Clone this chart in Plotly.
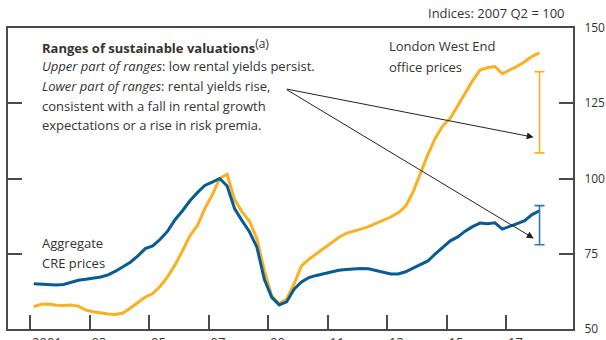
import plotly.graph_objects as go

# Quarterly observations, 2001 Q1 to 2018 Q1 (indices: 2007 Q2 = 100)
years = [y for y in range(2001, 2019) for _ in range(4)][:69]
quarters = ([1, 2, 3, 4] * 18)[:69]

aggregate_cre = [
    65.0, 64.8, 64.6, 64.6, 64.8, 65.6, 66.2, 66.5,
    66.8, 67.3, 68.0, 69.2, 70.7, 72.2, 74.3, 76.7,
    77.6, 79.8, 82.5, 86.3, 89.3, 92.6, 95.3, 97.7,
    98.8, 100.0, 97.5, 90.0, 86.0, 82.3, 77.2, 66.5,
    60.5, 58.0, 59.0, 63.2, 65.6, 67.1, 67.8, 68.4,
    69.0, 69.5, 69.8, 70.0, 70.1, 70.0, 69.5, 68.8,
    68.3, 68.3, 69.0, 70.2, 71.3, 72.6, 75.0, 77.3,
    79.3, 80.6, 82.5, 84.0, 85.2, 85.0, 85.3, 83.2,
    84.0, 85.0, 86.0, 88.0, 89.3,
]

london_west_end = [
    57.4, 58.2, 58.3, 57.9, 57.8, 58.0, 57.6, 56.3,
    55.7, 55.3, 55.0, 54.8, 55.3, 57.0, 58.7, 60.6,
    61.8, 64.2, 67.4, 71.3, 76.0, 81.0, 84.3, 90.0,
    94.5, 100.0, 101.4, 93.0, 89.0, 85.8, 80.0, 69.5,
    61.0, 58.4, 60.0, 65.0, 71.0, 73.2, 75.0, 76.8,
    78.6, 80.4, 81.8, 82.4, 83.2, 84.0, 85.0, 86.2,
    87.2, 88.6, 90.8, 95.5, 102.0, 108.0, 113.5, 117.5,
    120.0, 124.0, 128.3, 132.5, 136.0, 136.8, 137.2, 134.8,
    136.0, 137.3, 138.8, 140.6, 141.7,
]

# Ranges of sustainable valuations (low, high)
cre_range = [78.0, 91.0]
west_end_range = [108.5, 135.5]

tick_years = [2001, 2003, 2005, 2007, 2009, 2011, 2013, 2015, 2017]
tick_labels = ["2001", "03", "05", "07", "09", "11", "13", "15", "17"]
y_ticks = [50, 75, 100, 125, 150]

ORANGE = "#FBB021"
BLUE = "#075C96"
BLUE_RANGE = "#2B78B0"
TEXT = "#333333"
AXIS = "#4a4a4a"
FONT = "Open Sans"
SIZE = 13

# mid-quarter positions on a decimal-year axis
t = [y + (q - 0.5) / 4 for y, q in zip(years, quarters)]
t_last = t[-1]

fig = go.Figure()

fig.add_trace(go.Scatter(x=t, y=london_west_end, mode="lines",
                         line=dict(color=ORANGE, width=3), hoverinfo="skip"))
fig.add_trace(go.Scatter(x=t, y=aggregate_cre, mode="lines",
                         line=dict(color=BLUE, width=3), hoverinfo="skip"))

for rng, col in [(west_end_range, ORANGE), (cre_range, BLUE_RANGE)]:
    fig.add_trace(go.Scatter(
        x=[t_last], y=[rng[0]], mode="markers",
        marker=dict(size=1, color="rgba(0,0,0,0)"),
        error_y=dict(type="data", symmetric=False,
                     array=[rng[1] - rng[0]], arrayminus=[0],
                     color=col, thickness=1.6, width=5),
        hoverinfo="skip"))

annotations = []

def text(x, y, s, **kw):
    annotations.append(dict(x=x, y=y, xref="x", yref="y", text=s,
                            showarrow=False, xanchor="left", yanchor="middle",
                            font=dict(family=FONT, size=SIZE, color=TEXT), **kw))

text(2001.34, 144.0, "<b>Ranges of sustainable valuations</b>"
     "<sup><span style='font-size:12px'>(a)</span></sup>")
text(2001.34, 137.4, "<i>Upper part of ranges</i>: low rental yields persist.")
text(2001.34, 130.7, "<i>Lower part of ranges</i>: rental yields rise,")
text(2001.34, 124.1, "consistent with a fall in rental growth")
text(2001.34, 117.8, "expectations or a rise in risk premia.")
text(2013.0, 144.0, "London West End")
text(2013.0, 137.0, "office prices")
text(2001.34, 78.6, "Aggregate")
text(2001.34, 71.9, "CRE prices")

# arrows from the explanatory note to each range
for head_y in [113.7, 80.1]:
    annotations.append(dict(
        x=2017.93, y=head_y, xref="x", yref="y",
        ax=2009.58, ay=129.8, axref="x", ayref="y",
        text="", showarrow=True, arrowhead=2, arrowsize=1.4,
        arrowwidth=1, arrowcolor="#222222", standoff=0, startstandoff=0))

annotations.append(dict(x=0.989, y=1.05, xref="paper", yref="paper",
                        text="Indices: 2007 Q2 = 100", showarrow=False,
                        xanchor="right", yanchor="middle",
                        font=dict(family=FONT, size=SIZE, color=TEXT)))

fig.update_layout(
    width=606, height=340,
    margin=dict(l=8, r=33, t=28, b=11, autoexpand=False),
    paper_bgcolor="white", plot_bgcolor="white",
    showlegend=False,
    annotations=annotations,
    xaxis=dict(range=[2000.26, 2019.25], tickvals=tick_years, ticktext=tick_labels,
               ticks="inside", ticklen=14, tickwidth=2, tickcolor=AXIS,
               showline=True, linecolor=AXIS, linewidth=2, mirror=True,
               showgrid=False, zeroline=False, automargin=False,
               ticklabelposition="outside right",
               tickfont=dict(family=FONT, size=SIZE, color=TEXT)),
    yaxis=dict(range=[50, 150], tickvals=y_ticks, side="right",
               ticks="inside", ticklen=14, tickwidth=2, tickcolor=AXIS,
               showline=True, linecolor=AXIS, linewidth=2, mirror="ticks",
               showgrid=False, zeroline=False, automargin=False,
               ticklabelstandoff=7,
               tickfont=dict(family=FONT, size=12, color=TEXT)),
)

fig.write_html("out.html")
